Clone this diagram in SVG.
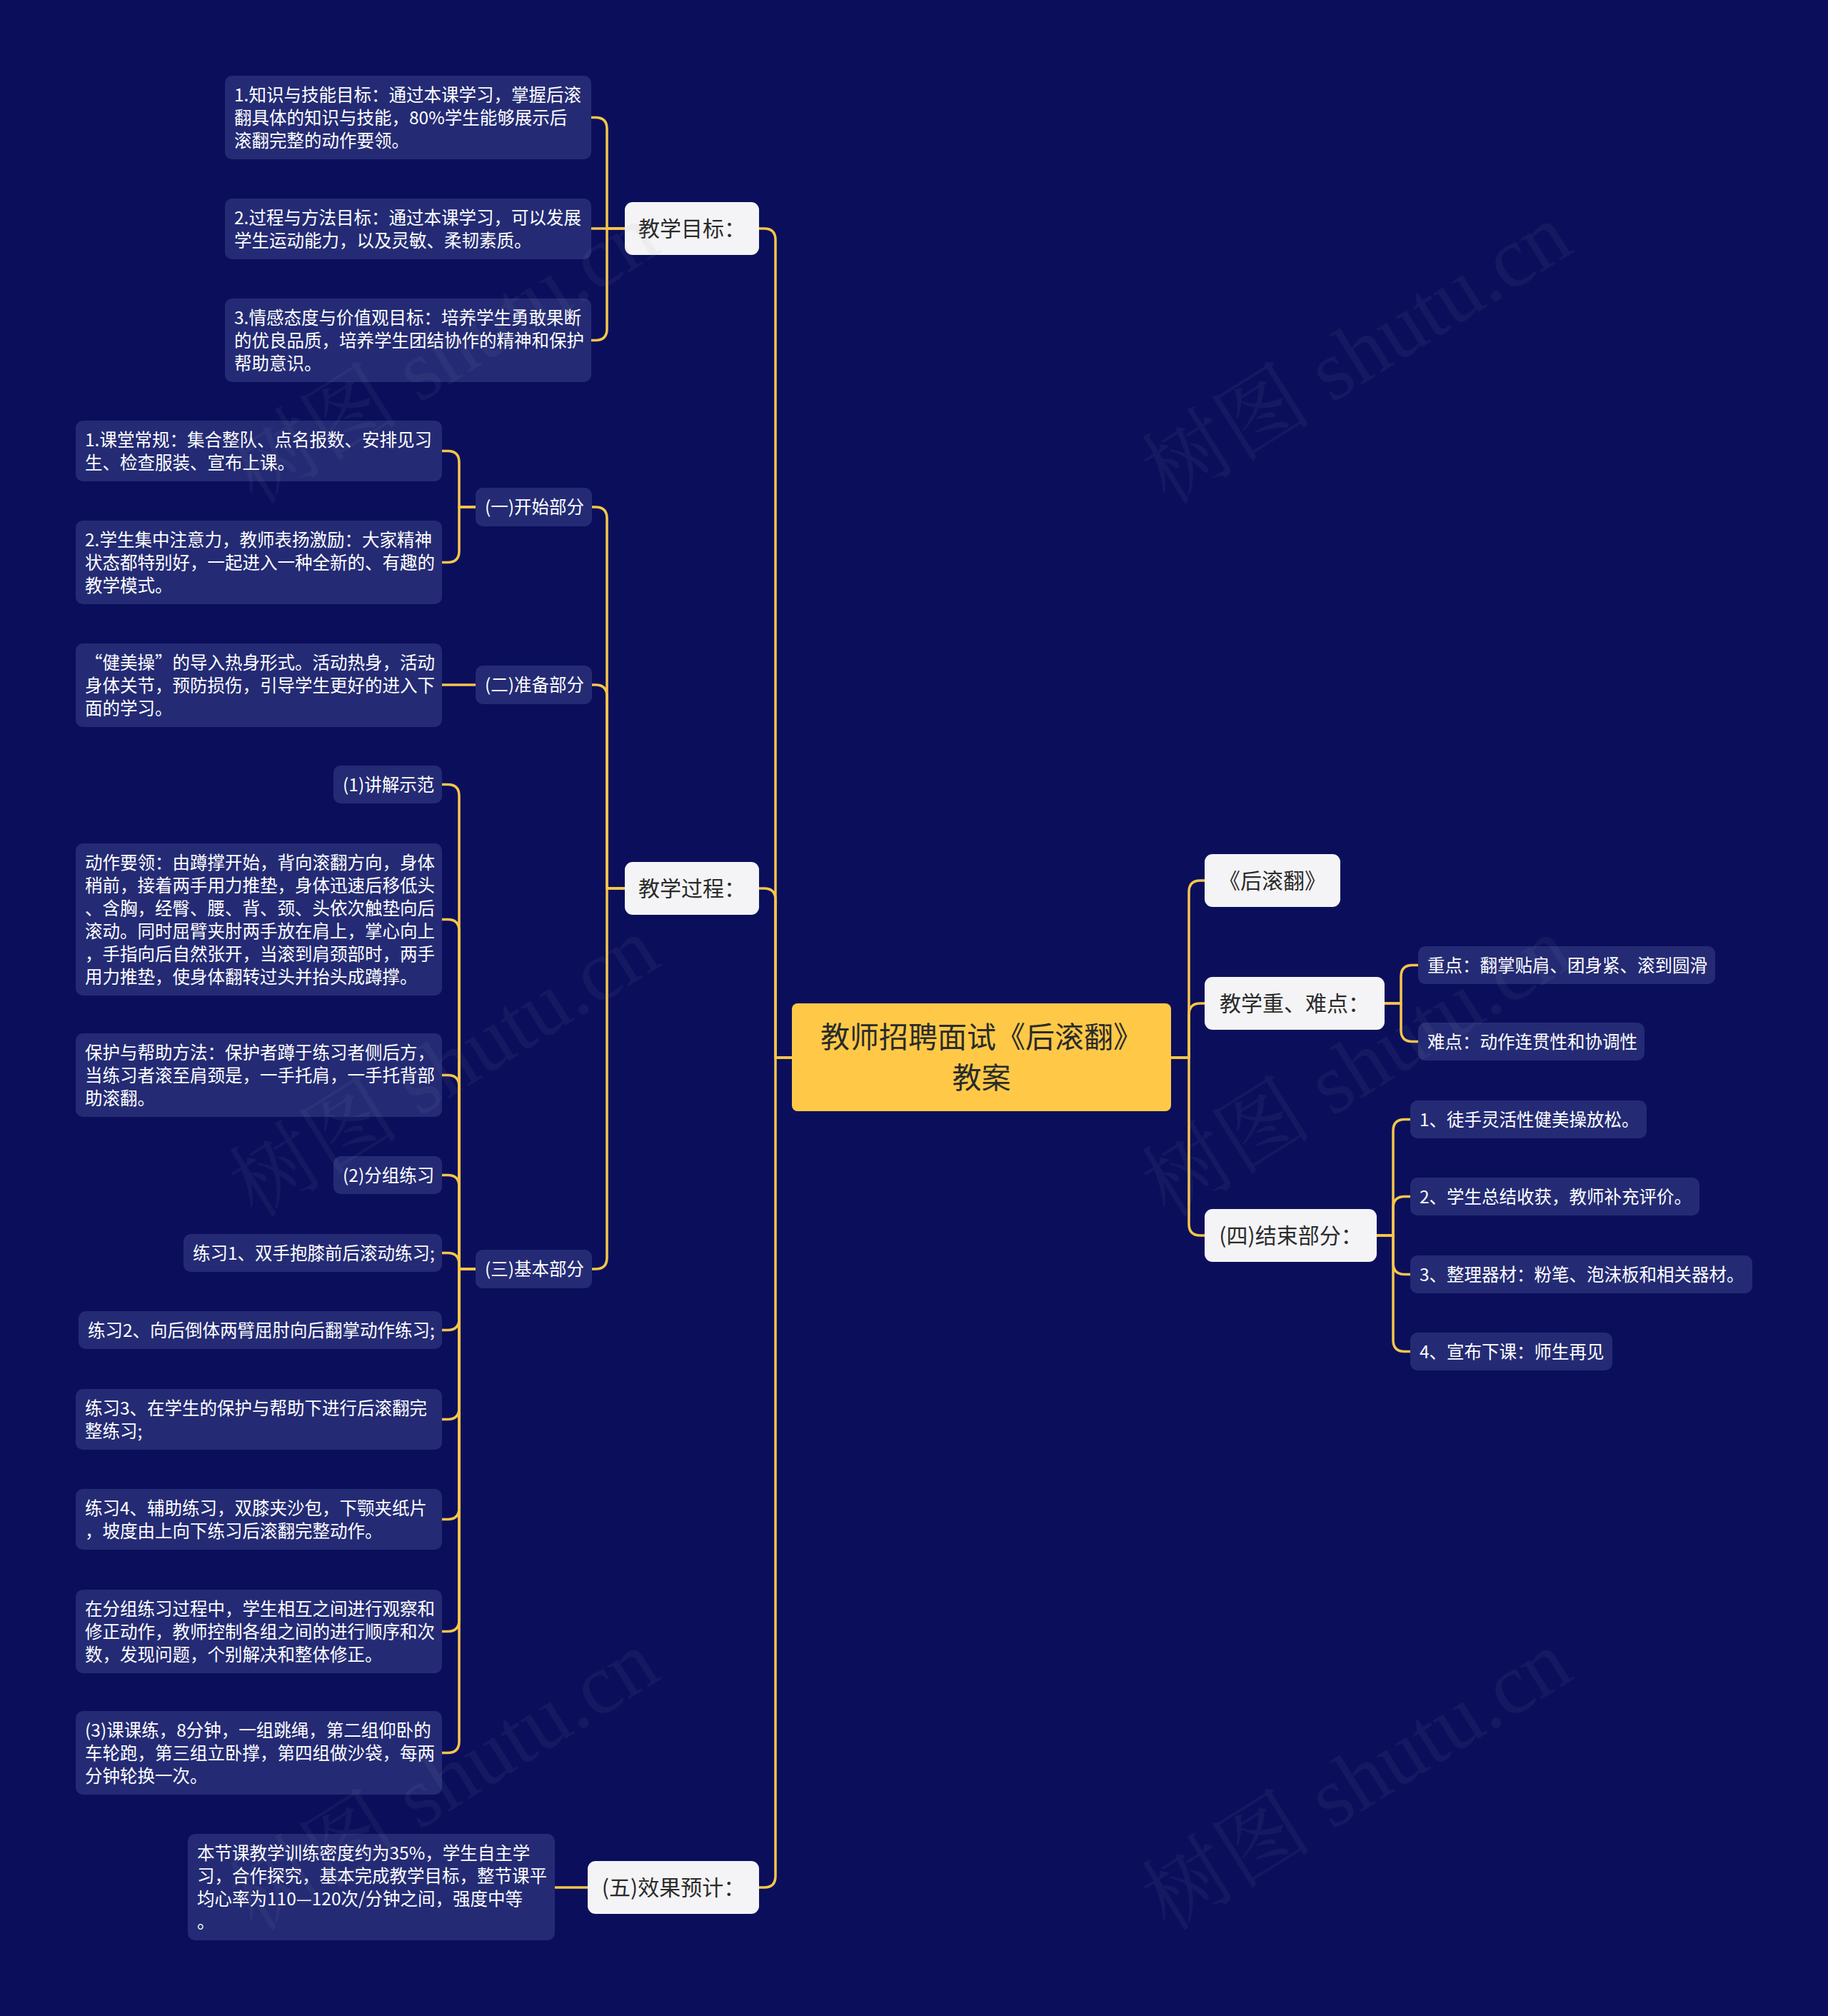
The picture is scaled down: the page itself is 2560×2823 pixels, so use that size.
<svg xmlns="http://www.w3.org/2000/svg" width="2560" height="2823" viewBox="0 0 2560 2823">
<style>
text{font-family:"Noto Sans CJK SC","Noto Sans",sans-serif;}
.bg{fill:#0B0F5B;}
.root{fill:#FFC947;}
.rt{font-size:41px;fill:#2B2B2B;text-anchor:middle;}
.l1{fill:#F4F4F6;}
.t1{font-size:30px;fill:#2B2B2B;text-anchor:middle;}
.l2{fill:#242B74;}
.t2{font-size:24.5px;fill:#FFFFFF;}
.conn path{fill:none;stroke:#F6C64A;stroke-width:3.5;stroke-linecap:round;stroke-linejoin:round;}
.wm{font-family:"Liberation Serif","Noto Serif CJK SC","Noto Sans CJK SC",serif;font-size:120px;fill:#9A9AB0;opacity:0.07;}
</style>
<rect class="bg" x="0" y="0" width="2560" height="2823"/>

<g id="connectors" class="conn">
<path d="M1109 1481 H1086 V336 Q1086 320 1070 320 H1063"/>
<path d="M1109 1481 H1086 V1260 Q1086 1244 1070 1244 H1063"/>
<path d="M1109 1481 H1086 V2627 Q1086 2643 1070 2643 H1063"/>
<path d="M1640 1481 H1665 V1249 Q1665 1233 1681 1233 H1687"/>
<path d="M1640 1481 H1665 V1421 Q1665 1405 1681 1405 H1687"/>
<path d="M1640 1481 H1665 V1714 Q1665 1730 1681 1730 H1687"/>
<path d="M875 320 H850 V180.5 Q850 164.5 834 164.5 H828"/>
<path d="M875 320 H828"/>
<path d="M875 320 H850 V460.5 Q850 476.5 834 476.5 H828"/>
<path d="M875 1244 H850 V726 Q850 710 834 710 H829"/>
<path d="M875 1244 H850 V975 Q850 959 834 959 H829"/>
<path d="M875 1244 H850 V1761 Q850 1777 834 1777 H829"/>
<path d="M666 710 H643 V647.5 Q643 631.5 627 631.5 H619"/>
<path d="M666 710 H643 V771.5 Q643 787.5 627 787.5 H619"/>
<path d="M666 959 H619"/>
<path d="M666 1777 H643 V1114.5 Q643 1098.5 627 1098.5 H619"/>
<path d="M666 1777 H643 V1303.5 Q643 1287.5 627 1287.5 H619"/>
<path d="M666 1777 H643 V1521.5 Q643 1505.5 627 1505.5 H619"/>
<path d="M666 1777 H643 V1661.5 Q643 1645.5 627 1645.5 H619"/>
<path d="M666 1777 H643 V1770.5 Q643 1754.5 627 1754.5 H619"/>
<path d="M666 1777 H643 V1846.5 Q643 1862.5 627 1862.5 H619"/>
<path d="M666 1777 H643 V1971.5 Q643 1987.5 627 1987.5 H619"/>
<path d="M666 1777 H643 V2111.5 Q643 2127.5 627 2127.5 H619"/>
<path d="M666 1777 H643 V2268.5 Q643 2284.5 627 2284.5 H619"/>
<path d="M666 1777 H643 V2438.5 Q643 2454.5 627 2454.5 H619"/>
<path d="M823 2643 H777"/>
<path d="M1939 1405 H1962 V1367.5 Q1962 1351.5 1978 1351.5 H1986"/>
<path d="M1939 1405 H1962 V1442.5 Q1962 1458.5 1978 1458.5 H1986"/>
<path d="M1928 1730 H1951 V1583.5 Q1951 1567.5 1967 1567.5 H1975"/>
<path d="M1928 1730 H1951 V1691.5 Q1951 1675.5 1967 1675.5 H1975"/>
<path d="M1928 1730 H1951 V1768.5 Q1951 1784.5 1967 1784.5 H1975"/>
<path d="M1928 1730 H1951 V1876.5 Q1951 1892.5 1967 1892.5 H1975"/>
</g>

<g id="root">
<rect class="root" x="1109" y="1405" width="531" height="151" rx="8"/>
<text class="rt" x="1374.5" y="1467">教师招聘面试《后滚翻》</text>
<text class="rt" x="1374.5" y="1524">教案</text>
</g>

<g id="n-goal"><rect class="l1" x="875" y="283" width="188" height="74" rx="11"/><text class="t1" x="969" y="331">教学目标：</text></g>
<g id="n-process"><rect class="l1" x="875" y="1207" width="188" height="74" rx="11"/><text class="t1" x="969" y="1255">教学过程：</text></g>
<g id="n-effect"><rect class="l1" x="823" y="2606" width="240" height="74" rx="11"/><text class="t1" x="943" y="2654">(五)效果预计：</text></g>
<g id="n-title"><rect class="l1" x="1687" y="1196" width="190" height="74" rx="11"/><text class="t1" x="1782" y="1244">《后滚翻》</text></g>
<g id="n-key"><rect class="l1" x="1687" y="1368" width="252" height="74" rx="11"/><text class="t1" x="1813" y="1416">教学重、难点：</text></g>
<g id="n-end"><rect class="l1" x="1687" y="1693" width="241" height="74" rx="11"/><text class="t1" x="1807.5" y="1741">(四)结束部分：</text></g>

<g id="g1"><rect class="l2" x="315" y="106" width="513" height="117" rx="10"/><text class="t2" x="328" y="142">1.知识与技能目标：通过本课学习，掌握后滚<tspan x="328" dy="32">翻具体的知识与技能，80%学生能够展示后</tspan><tspan x="328" dy="32">滚翻完整的动作要领。</tspan></text></g>
<g id="g2"><rect class="l2" x="315" y="278" width="513" height="85" rx="10"/><text class="t2" x="328" y="314">2.过程与方法目标：通过本课学习，可以发展<tspan x="328" dy="32">学生运动能力，以及灵敏、柔韧素质。</tspan></text></g>
<g id="g3"><rect class="l2" x="315" y="418" width="513" height="117" rx="10"/><text class="t2" x="328" y="454">3.情感态度与价值观目标：培养学生勇敢果断<tspan x="328" dy="32">的优良品质，培养学生团结协作的精神和保护</tspan><tspan x="328" dy="32">帮助意识。</tspan></text></g>

<g id="p1"><rect class="l2" x="666" y="683" width="163" height="54" rx="10"/><text class="t2" x="679" y="719">(一)开始部分</text></g>
<g id="p2"><rect class="l2" x="666" y="932" width="163" height="54" rx="10"/><text class="t2" x="679" y="968">(二)准备部分</text></g>
<g id="p3"><rect class="l2" x="666" y="1750" width="163" height="54" rx="10"/><text class="t2" x="679" y="1786">(三)基本部分</text></g>

<g id="a1"><rect class="l2" x="106" y="589" width="513" height="85" rx="10"/><text class="t2" x="119" y="625">1.课堂常规：集合整队、点名报数、安排见习<tspan x="119" dy="32">生、检查服装、宣布上课。</tspan></text></g>
<g id="a2"><rect class="l2" x="106" y="729" width="513" height="117" rx="10"/><text class="t2" x="119" y="765">2.学生集中注意力，教师表扬激励：大家精神<tspan x="119" dy="32">状态都特别好，一起进入一种全新的、有趣的</tspan><tspan x="119" dy="32">教学模式。</tspan></text></g>
<g id="b1"><rect class="l2" x="106" y="901" width="513" height="117" rx="10"/><text class="t2" x="119" y="937">“健美操”的导入热身形式。活动热身，活动<tspan x="119" dy="32">身体关节，预防损伤，引导学生更好的进入下</tspan><tspan x="119" dy="32">面的学习。</tspan></text></g>

<g id="c1"><rect class="l2" x="467" y="1072" width="152" height="53" rx="10"/><text class="t2" x="480" y="1108">(1)讲解示范</text></g>
<g id="c2"><rect class="l2" x="106" y="1181" width="513" height="213" rx="10"/><text class="t2" x="119" y="1217">动作要领：由蹲撑开始，背向滚翻方向，身体<tspan x="119" dy="32">稍前，接着两手用力推垫，身体迅速后移低头</tspan><tspan x="119" dy="32">、含胸，经臀、腰、背、颈、头依次触垫向后</tspan><tspan x="119" dy="32">滚动。同时屈臂夹肘两手放在肩上，掌心向上</tspan><tspan x="119" dy="32">，手指向后自然张开，当滚到肩颈部时，两手</tspan><tspan x="119" dy="32">用力推垫，使身体翻转过头并抬头成蹲撑。</tspan></text></g>
<g id="c3"><rect class="l2" x="106" y="1447" width="513" height="117" rx="10"/><text class="t2" x="119" y="1483">保护与帮助方法：保护者蹲于练习者侧后方，<tspan x="119" dy="32">当练习者滚至肩颈是，一手托肩，一手托背部</tspan><tspan x="119" dy="32">助滚翻。</tspan></text></g>
<g id="c4"><rect class="l2" x="467" y="1619" width="152" height="53" rx="10"/><text class="t2" x="480" y="1655">(2)分组练习</text></g>
<g id="c5"><rect class="l2" x="257" y="1728" width="362" height="53" rx="10"/><text class="t2" x="270" y="1764">练习1、双手抱膝前后滚动练习;</text></g>
<g id="c6"><rect class="l2" x="110" y="1836" width="509" height="53" rx="10"/><text class="t2" x="123" y="1872">练习2、向后倒体两臂屈肘向后翻掌动作练习;</text></g>
<g id="c7"><rect class="l2" x="106" y="1945" width="513" height="85" rx="10"/><text class="t2" x="119" y="1981">练习3、在学生的保护与帮助下进行后滚翻完<tspan x="119" dy="32">整练习;</tspan></text></g>
<g id="c8"><rect class="l2" x="106" y="2085" width="513" height="85" rx="10"/><text class="t2" x="119" y="2121">练习4、辅助练习，双膝夹沙包，下颚夹纸片<tspan x="119" dy="32">，坡度由上向下练习后滚翻完整动作。</tspan></text></g>
<g id="c9"><rect class="l2" x="106" y="2226" width="513" height="117" rx="10"/><text class="t2" x="119" y="2262">在分组练习过程中，学生相互之间进行观察和<tspan x="119" dy="32">修正动作，教师控制各组之间的进行顺序和次</tspan><tspan x="119" dy="32">数，发现问题，个别解决和整体修正。</tspan></text></g>
<g id="c10"><rect class="l2" x="106" y="2396" width="513" height="117" rx="10"/><text class="t2" x="119" y="2432">(3)课课练，8分钟，一组跳绳，第二组仰卧的<tspan x="119" dy="32">车轮跑，第三组立卧撑，第四组做沙袋，每两</tspan><tspan x="119" dy="32">分钟轮换一次。</tspan></text></g>

<g id="e1"><rect class="l2" x="263" y="2568" width="514" height="149" rx="10"/><text class="t2" x="276" y="2604">本节课教学训练密度约为35%，学生自主学<tspan x="276" dy="32">习，合作探究，基本完成教学目标，整节课平</tspan><tspan x="276" dy="32">均心率为110—120次/分钟之间，强度中等</tspan><tspan x="276" dy="32">。</tspan></text></g>

<g id="k1"><rect class="l2" x="1986" y="1325" width="416" height="53" rx="10"/><text class="t2" x="1999" y="1361">重点：翻掌贴肩、团身紧、滚到圆滑</text></g>
<g id="k2"><rect class="l2" x="1986" y="1432" width="317" height="53" rx="10"/><text class="t2" x="1999" y="1468">难点：动作连贯性和协调性</text></g>

<g id="d1"><rect class="l2" x="1975" y="1541" width="331" height="53" rx="10"/><text class="t2" x="1988" y="1577">1、徒手灵活性健美操放松。</text></g>
<g id="d2"><rect class="l2" x="1975" y="1649" width="405" height="53" rx="10"/><text class="t2" x="1988" y="1685">2、学生总结收获，教师补充评价。</text></g>
<g id="d3"><rect class="l2" x="1975" y="1758" width="479" height="53" rx="10"/><text class="t2" x="1988" y="1794">3、整理器材：粉笔、泡沫板和相关器材。</text></g>
<g id="d4"><rect class="l2" x="1975" y="1866" width="283" height="53" rx="10"/><text class="t2" x="1988" y="1902">4、宣布下课：师生再见</text></g>

<g id="watermarks">
<text class="wm" transform="translate(358 708) rotate(-32)">树图 shutu.cn</text>
<text class="wm" transform="translate(1636 708) rotate(-32)">树图 shutu.cn</text>
<text class="wm" transform="translate(358 1707) rotate(-32)">树图 shutu.cn</text>
<text class="wm" transform="translate(1636 1707) rotate(-32)">树图 shutu.cn</text>
<text class="wm" transform="translate(358 2706) rotate(-32)">树图 shutu.cn</text>
<text class="wm" transform="translate(1636 2706) rotate(-32)">树图 shutu.cn</text>
</g>
</svg>
